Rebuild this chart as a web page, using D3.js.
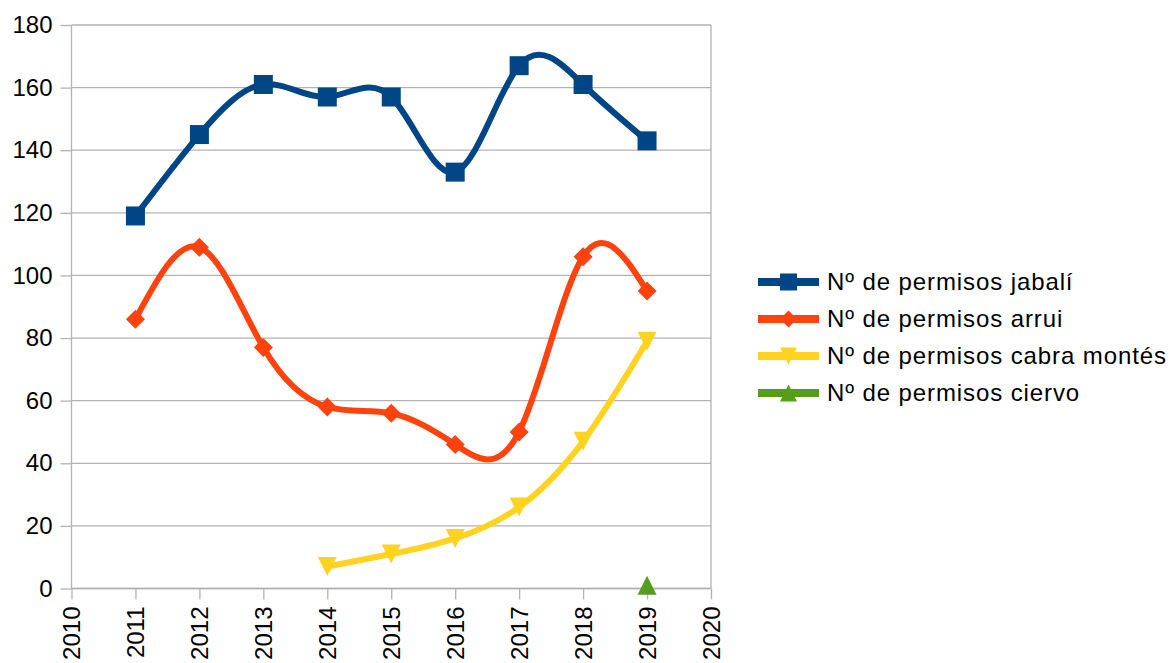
<!DOCTYPE html>
<html>
<head>
<meta charset="utf-8">
<script src="https://cdn.jsdelivr.net/npm/d3@7"></script>
<style>
  body { margin: 0; background: #fff; }
  svg { display: block; font-family: "Liberation Sans", Arial, sans-serif; }
  .grid line { stroke: #b3b3b3; stroke-width: 1.3; }
  .tick text { fill: #000; font-size: 24px; }
</style>
</head>
<body>
<div id="chart"></div>
<script>
// data
const years = [2011, 2012, 2013, 2014, 2015, 2016, 2017, 2018, 2019];
const jabali = [119, 145, 161, 157, 157, 133, 167, 161, 143];
const arrui = [86, 109, 77, 58, 56, 46, 50, 106, 95];
const cabraMontes = [null, null, null, 7, 11, 16, 26, 47, 79];
const ciervo = [null, null, null, null, null, null, null, null, 1];
const seriesNames = ["Nº de permisos jabalí", "Nº de permisos arrui", "Nº de permisos cabra montés", "Nº de permisos ciervo"];
const seriesColors = ["#004586", "#ff420e", "#ffd320", "#579d1c"];
const yTicks = [0, 20, 40, 60, 80, 100, 120, 140, 160, 180];
const xTicks = [2010, 2011, 2012, 2013, 2014, 2015, 2016, 2017, 2018, 2019, 2020];

const width = 1172, height = 663;
const margin = {left: 71.5, right: 461, top: 25, bottom: 74.5};

const svg = d3.select("#chart").append("svg")
    .attr("width", width)
    .attr("height", height);

const x = d3.scaleLinear().domain([2010, 2020]).range([margin.left, width - margin.right]);
const y = d3.scaleLinear().domain([0, 180]).range([height - margin.bottom, margin.top]);

// horizontal grid lines
svg.append("g").attr("class", "grid")
  .selectAll("line").data(yTicks).join("line")
    .attr("x1", margin.left).attr("x2", width - margin.right)
    .attr("y1", d => y(d)).attr("y2", d => y(d));

// right border of plot area
svg.append("line")
    .attr("x1", width - margin.right).attr("x2", width - margin.right)
    .attr("y1", margin.top).attr("y2", y(0))
    .attr("stroke", "#b3b3b3").attr("stroke-width", 1.3);

const yAxis = d3.axisLeft(y).tickValues(yTicks).tickSize(11).tickPadding(8);
const yg = svg.append("g").attr("transform", "translate(" + margin.left + ",0)").call(yAxis);
yg.selectAll("line, path").attr("stroke", "#b3b3b3").attr("stroke-width", 1.3);
yg.select(".domain").attr("d", "M0," + y(180) + "V" + y(0));

const xAxis = d3.axisBottom(x).tickValues(xTicks).tickFormat(d3.format("d")).tickSize(11).tickPadding(0);
const xg = svg.append("g").attr("transform", "translate(0," + y(0) + ")").call(xAxis);
xg.selectAll("line, path").attr("stroke", "#b3b3b3").attr("stroke-width", 1.3);
xg.select(".domain").attr("d", "M" + x(2010) + ",0H" + x(2020));
xg.selectAll("text")
    .attr("transform", "translate(0,18) rotate(-90)")
    .attr("text-anchor", "end")
    .attr("dy", "0.35em")
    .attr("x", 0).attr("y", 0);

// marker shapes
function marker(kind, s) {
  const h = s / 2;
  if (kind === "square") return "M" + (-h) + "," + (-h) + "h" + s + "v" + s + "h" + (-s) + "Z";
  if (kind === "diamond") return "M0," + (-h) + "L" + h + ",0L0," + h + "L" + (-h) + ",0Z";
  if (kind === "down") return "M" + (-h) + "," + (-h) + "L" + h + "," + (-h) + "L0," + h + "Z";
  return "M0," + (-h) + "L" + h + "," + h + "L" + (-h) + "," + h + "Z";
}
const kinds = ["square", "diamond", "down", "up"];
const allSeries = [jabali, arrui, cabraMontes, ciervo];

const line = d3.line()
    .defined(d => d.v != null)
    .x(d => x(d.year))
    .y(d => y(d.v))
    .curve(d3.curveNatural);

allSeries.forEach((vals, i) => {
  const pts = years.map((yr, j) => ({year: yr, v: vals[j]}));
  const g = svg.append("g");
  g.append("path")
      .datum(pts.filter(d => d.v != null))
      .attr("d", line)
      .attr("fill", "none")
      .attr("stroke", seriesColors[i])
      .attr("stroke-width", 6)
      .attr("stroke-linejoin", "round");
  g.selectAll("path.m").data(pts.filter(d => d.v != null)).join("path")
      .attr("class", "m")
      .attr("transform", d => "translate(" + x(d.year) + "," + y(d.v) + ")")
      .attr("d", marker(kinds[i], 19))
      .attr("fill", seriesColors[i]);
});

// legend
const legend = svg.append("g").attr("transform", "translate(758,282)");
seriesNames.forEach((name, i) => {
  const row = legend.append("g").attr("transform", "translate(0," + (i * 37) + ")");
  row.append("line")
      .attr("x1", 0).attr("x2", 61)
      .attr("stroke", seriesColors[i]).attr("stroke-width", 8);
  row.append("path")
      .attr("transform", "translate(30.5,0)")
      .attr("d", marker(kinds[i], 17))
      .attr("fill", seriesColors[i]);
  row.append("text")
      .attr("x", 69).attr("dy", "0.35em")
      .attr("font-size", 24)
      .attr("letter-spacing", "0.9px")
      .text(name);
});
</script>
</body>
</html>
